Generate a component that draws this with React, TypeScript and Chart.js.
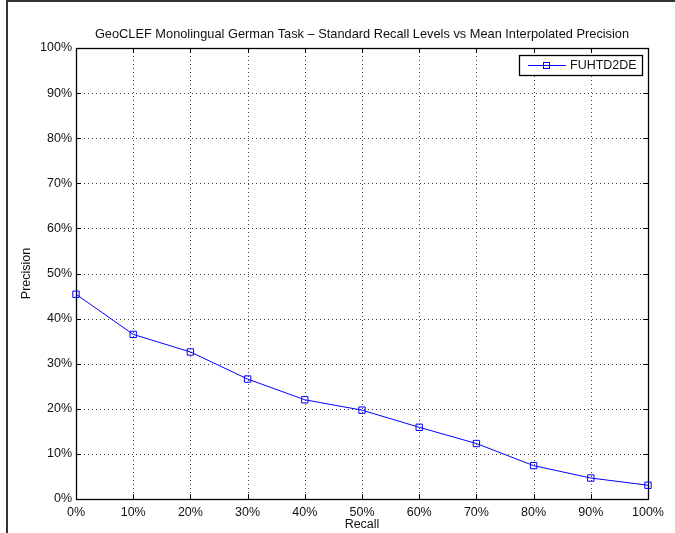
import React, { useEffect, useRef } from "react";
import { Chart, registerables } from "chart.js";

Chart.register(...registerables);

const recallLevels = [0, 10, 20, 30, 40, 50, 60, 70, 80, 90, 100];
const precision = [45.4, 36.5, 32.6, 26.6, 22.0, 19.7, 15.9, 12.3, 7.4, 4.65, 3.05];
const seriesName = "FUHTD2DE";
const titleText = "GeoCLEF Monolingual German Task \u2013 Standard Recall Levels vs Mean Interpolated Precision";
const xTitle = "Recall";
const yTitle = "Precision";

const FONT = '"Liberation Sans", Arial, Helvetica, sans-serif';
const BLUE = "#0000ff";

const decorPlugin = {
  id: "decor",
  beforeDatasetsDraw(chart: any) {
    const { ctx, chartArea } = chart;
    const { left, right, top, bottom } = chartArea;
    const xs = chart.scales.x;
    const ys = chart.scales.y;
    ctx.save();
    // outer frame (left and top edges only)
    ctx.strokeStyle = "#333";
    ctx.lineWidth = 2;
    ctx.lineCap = "butt";
    ctx.beginPath();
    ctx.moveTo(7, 533);
    ctx.lineTo(7, 1);
    ctx.lineTo(675, 1);
    ctx.stroke();
    // dotted grid
    ctx.strokeStyle = "rgba(0,0,0,0.75)";
    ctx.lineWidth = 1;
    ctx.setLineDash([1, 3]);
    xs.ticks.forEach((t: any) => {
      const px = Math.round(xs.getPixelForValue(t.value)) + 0.5;
      if (px <= left + 1 || px >= right - 1) return;
      ctx.beginPath();
      ctx.moveTo(px, top);
      ctx.lineTo(px, bottom);
      ctx.stroke();
    });
    ys.ticks.forEach((t: any) => {
      const py = Math.round(ys.getPixelForValue(t.value)) + 0.5;
      if (py <= top + 1 || py >= bottom - 1) return;
      ctx.beginPath();
      ctx.moveTo(left, py);
      ctx.lineTo(right, py);
      ctx.stroke();
    });
    ctx.setLineDash([]);
    // inward ticks
    ctx.strokeStyle = "#000";
    const tl = 5;
    xs.ticks.forEach((t: any) => {
      const px = Math.round(xs.getPixelForValue(t.value)) + 0.5;
      ctx.beginPath();
      ctx.moveTo(px, bottom);
      ctx.lineTo(px, bottom - tl);
      ctx.moveTo(px, top);
      ctx.lineTo(px, top + tl);
      ctx.stroke();
    });
    ys.ticks.forEach((t: any) => {
      const py = Math.round(ys.getPixelForValue(t.value)) + 0.5;
      ctx.beginPath();
      ctx.moveTo(left, py);
      ctx.lineTo(left + tl, py);
      ctx.moveTo(right, py);
      ctx.lineTo(right - tl, py);
      ctx.stroke();
    });
    // box
    ctx.lineWidth = 1.3;
    ctx.strokeRect(Math.round(left) + 0.5, Math.round(top) + 0.5, Math.round(right - left), Math.round(bottom - top));
    ctx.restore();
  },
  afterDraw(chart: any) {
    const { ctx, chartArea } = chart;
    const { left, right, top, bottom } = chartArea;
    ctx.save();
    ctx.fillStyle = "#111";
    ctx.textAlign = "center";
    ctx.textBaseline = "middle";
    ctx.font = `12.8px ${FONT}`;
    ctx.fillText(titleText, (left + right) / 2, 34);
    ctx.font = `12.5px ${FONT}`;
    ctx.fillText(xTitle, (left + right) / 2, 525);
    ctx.save();
    ctx.translate(27, (top + bottom) / 2);
    ctx.rotate(-Math.PI / 2);
    ctx.fillText(yTitle, 0, 0);
    ctx.restore();

    // legend
    const bx = 519.5, by = 55.5, bw = 123, bh = 20;
    ctx.fillStyle = "#fff";
    ctx.fillRect(bx, by, bw, bh);
    ctx.strokeStyle = "#000";
    ctx.lineWidth = 1.3;
    ctx.strokeRect(bx, by, bw, bh);
    const ly = 65.5;
    ctx.strokeStyle = BLUE;
    ctx.lineWidth = 1;
    ctx.beginPath();
    ctx.moveTo(528, ly);
    ctx.lineTo(566, ly);
    ctx.stroke();
    ctx.strokeRect(543.5, ly - 3, 6, 6);
    ctx.fillStyle = "#111";
    ctx.textAlign = "left";
    ctx.font = `12.5px ${FONT}`;
    ctx.fillText(seriesName, 570, ly + 0.5);
    ctx.restore();
  },
};

export default function App() {
  const canvasRef = useRef<HTMLCanvasElement | null>(null);

  useEffect(() => {
    const canvas = canvasRef.current;
    if (!canvas) return;
    const chart = new Chart(canvas, {
      type: "line",
      data: {
        datasets: [
          {
            label: seriesName,
            data: recallLevels.map((r, i) => ({ x: r, y: precision[i] })),
            borderColor: BLUE,
            borderWidth: 1,
            backgroundColor: "transparent",
            pointStyle: "rect",
            pointRadius: 4.5,
            pointBorderWidth: 1,
            pointBorderColor: BLUE,
            pointBackgroundColor: "transparent",
            tension: 0,
            fill: false,
            clip: false as any,
          },
        ],
      },
      options: {
        responsive: false,
        animation: false,
        devicePixelRatio: 1,
        layout: { padding: { top: 48, right: 27, left: 0, bottom: 0 } },
        plugins: {
          legend: { display: false },
          title: { display: false },
          tooltip: { enabled: false },
        },
        scales: {
          x: {
            type: "linear",
            min: 0,
            max: 100,
            grid: { display: false, drawTicks: false },
            border: { display: false },
            ticks: {
              stepSize: 10,
              padding: 6,
              color: "#111",
              font: { family: FONT, size: 12.5 },
              maxRotation: 0,
              callback: (v: any) => `${v}%`,
            },
            afterFit: (s: any) => {
              s.height = 34;
            },
          },
          y: {
            type: "linear",
            min: 0,
            max: 100,
            grid: { display: false, drawTicks: false },
            border: { display: false },
            ticks: {
              stepSize: 10,
              padding: 4,
              color: "#111",
              font: { family: FONT, size: 12.5 },
              callback: (v: any) => `${v}%`,
            },
            afterFit: (s: any) => {
              s.width = 76;
            },
          },
        },
      },
      plugins: [decorPlugin],
    });
    return () => chart.destroy();
  }, []);

  return (
    <div
      style={{
        position: "fixed",
        left: 0,
        top: 0,
        width: 675,
        height: 533,
        background: "#fff",
        overflow: "hidden",
      }}
    >
      <canvas ref={canvasRef} width={675} height={533} style={{ position: "absolute", left: 0, top: 0 }} />
    </div>
  );
}
